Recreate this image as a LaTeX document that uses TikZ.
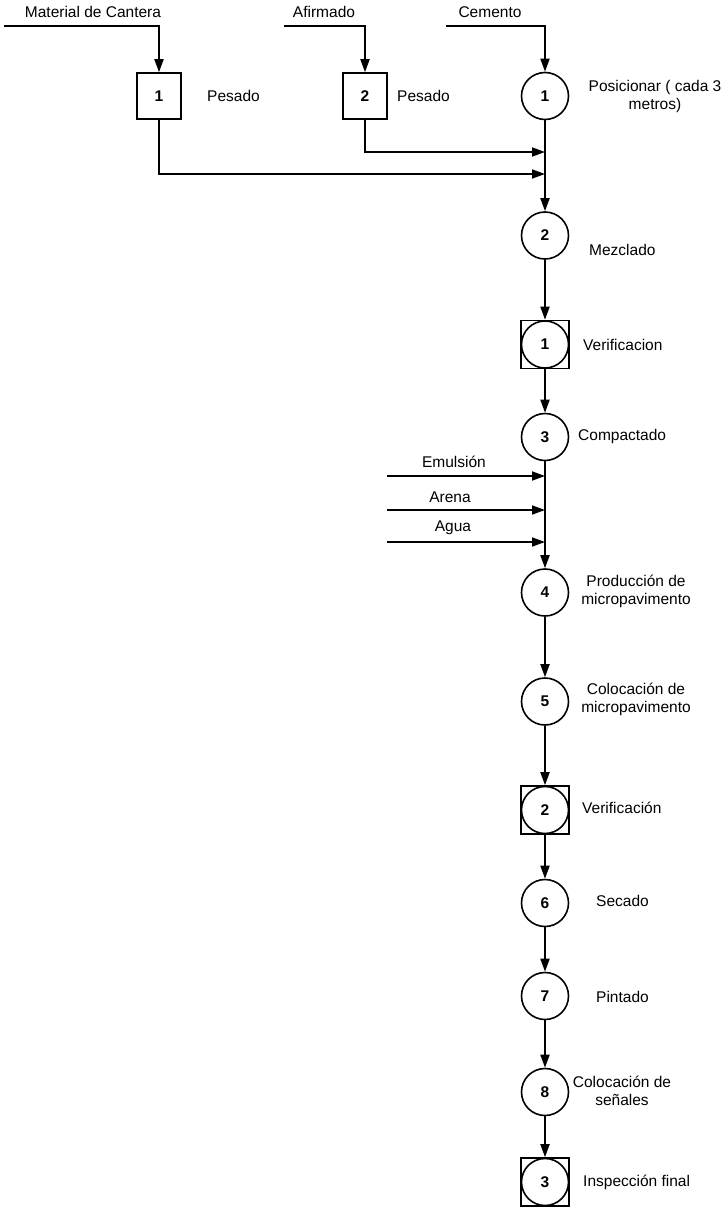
\documentclass[tikz,border=0pt]{standalone}
\usepackage{fontspec}
\setmainfont{Liberation Sans}
\usetikzlibrary{arrows.meta}
\begin{document}
\begin{tikzpicture}[x=1pt,y=-1pt,
  every node/.style={font=\fontsize{15.5}{18}\selectfont},
  flow/.style={line width=1.8pt, -{Triangle[length=13pt,width=9pt]}},
  opbox/.style={draw, line width=1.6pt, minimum width=44pt, minimum height=46pt,
    inner sep=0pt, font=\fontsize{15.5}{18}\selectfont\bfseries},
  opcirc/.style={draw, circle, line width=1.6pt, minimum size=47pt, inner sep=0pt,
    font=\fontsize{15.5}{18}\selectfont\bfseries},
  chkbox/.style={draw, line width=1.6pt, minimum size=48pt, inner sep=0pt},
  lbl/.style={anchor=west, inner sep=0pt},
  clbl/.style={align=center, inner sep=0pt}
]
\useasboundingbox (0,0) rectangle (726,1210);

% raw material inputs
\node (tMat) at (93,12) {Material de Cantera};
\node (tAfi) at (324,12) {Afirmado};
\node (tCem) at (490,12) {Cemento};
\coordinate (sMat) at (4,26);
\coordinate (sAfi) at (284,26);
\coordinate (sCem) at (446,26);

% weighing boxes
\node[opbox] (P1) at (159,96) {1};
\node[lbl] (lP1) at (207,96) {Pesado};
\node[opbox] (P2) at (365,96) {2};
\node[lbl] (lP2) at (397,96) {Pesado};

% main process column
\node[opcirc] (C1) at (545,96) {1};
\node[clbl] (lC1) at (655,96) {Posicionar ( cada 3\\metros)};
\node[opcirc] (C2) at (545,235.5) {2};
\node[lbl] (lC2) at (589,250) {Mezclado};
\node[chkbox] (V1) at (545,344.5) {};
\node[opcirc] at (V1) {1};
\node[lbl] (lV1) at (583,344.5) {Verificacion};
\node[opcirc] (C3) at (545,437) {3};
\node[lbl] (lC3) at (578,436) {Compactado};
\node[opcirc] (C4) at (545,592.5) {4};
\node[clbl] (lC4) at (636,591) {Producción de\\micropavimento};
\node[opcirc] (C5) at (545,701.5) {5};
\node[clbl] (lC5) at (636,699) {Colocación de\\micropavimento};
\node[chkbox] (V2) at (545,810) {};
\node[opcirc] at (V2) {2};
\node[lbl] (lV2) at (582,808) {Verificación};
\node[opcirc] (C6) at (545,903) {6};
\node[lbl] (lC6) at (596,901) {Secado};
\node[opcirc] (C7) at (545,996) {7};
\node[lbl] (lC7) at (596,997) {Pintado};
\node[opcirc] (C8) at (545,1092) {8};
\node[clbl] (lC8) at (622,1091) {Colocación de\\señales};
\node[chkbox] (V3) at (545,1182) {};
\node[opcirc] at (V3) {3};
\node[lbl] (lV3) at (583,1182) {Inspección final};

% junction points on the main line
\coordinate (j2) at (545,152);
\coordinate (j1) at (545,174);
\coordinate (jE) at (545,476);
\coordinate (jA) at (545,510);
\coordinate (jW) at (545,542);
\coordinate (sE) at (387,476);
\coordinate (sA) at (387,510);
\coordinate (sW) at (387,542);

% additive inputs
\node (tE) at (454,462) {Emulsión};
\node (tA) at (450,497) {Arena};
\node (tW) at (453,528) {Agua};

% connectors
\draw[flow] (sMat) -| (P1);
\draw[flow] (sAfi) -| (P2);
\draw[flow] (sCem) -| (C1);
\draw[flow] (P2) |- (j2);
\draw[flow] (P1) |- (j1);
\draw[flow] (C1) -- (C2);
\draw[flow] (C2) -- (V1);
\draw[flow] (V1) -- (C3);
\draw[flow] (sE) -- (jE);
\draw[flow] (sA) -- (jA);
\draw[flow] (sW) -- (jW);
\draw[flow] (C3) -- (C4);
\draw[flow] (C4) -- (C5);
\draw[flow] (C5) -- (V2);
\draw[flow] (V2) -- (C6);
\draw[flow] (C6) -- (C7);
\draw[flow] (C7) -- (C8);
\draw[flow] (C8) -- (V3);
\end{tikzpicture}
\end{document}
